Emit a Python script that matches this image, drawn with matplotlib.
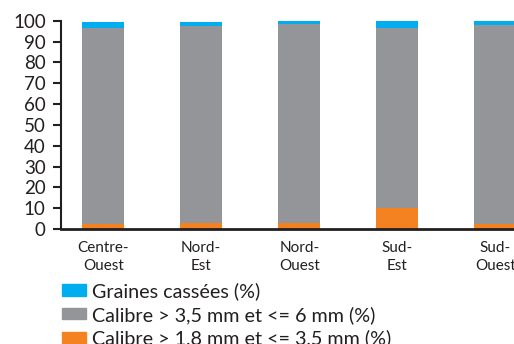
import matplotlib
matplotlib.use("Agg")
import matplotlib.pyplot as plt
from matplotlib.patches import Patch

regions = ["Centre-\nOuest", "Nord-\nEst", "Nord-\nOuest", "Sud-\nEst", "Sud-\nOuest"]
calibre_small = [2.2, 2.8, 3.1, 10.3, 2.2]      # > 1,8 mm et <= 3,5 mm
calibre_large = [94.1, 94.5, 95.2, 86.0, 95.6]  # > 3,5 mm et <= 6 mm
broken = [3.1, 2.1, 1.6, 3.6, 2.1]              # graines cassées
yticks = list(range(0, 101, 10))

labels = ["Graines cassées (%)",
          "Calibre > 3,5 mm et <= 6 mm (%)",
          "Calibre > 1,8 mm et <= 3,5 mm (%)"]
c_blue, c_gray, c_orange = "#00AEEF", "#939598", "#F58220"
ink = "#231F20"

plt.rcParams["font.family"] = ["Lato", "DejaVu Sans"]

W, H = 514, 344
fig = plt.figure(figsize=(W / 100, H / 100), dpi=100)
ax = fig.add_axes([61 / W, (H - 229) / H, (W - 61) / W, 208.3 / H])

x = list(range(len(regions)))
bw = 0.43
ax.bar(x, calibre_small, bw, color=c_orange, clip_on=False)
ax.bar(x, calibre_large, bw, bottom=calibre_small, color=c_gray, clip_on=False)
base2 = [a + b for a, b in zip(calibre_small, calibre_large)]
ax.bar(x, broken, bw, bottom=base2, color=c_blue, clip_on=False)

ax.set_xlim(-0.43, 4.19)
ax.set_ylim(0, 100)
ax.set_yticks(yticks)
ax.set_xticks(x)
ax.set_xticklabels(regions, fontsize=11, color=ink, linespacing=1.35)
ax.tick_params(axis="x", length=0, pad=9)
ax.tick_params(axis="y", length=6, width=1.5, pad=5, labelsize=13.5,
               colors=ink)

for s in ("top", "right"):
    ax.spines[s].set_visible(False)
ax.spines["left"].set_color(ink)
ax.spines["left"].set_linewidth(1.5)
ax.spines["bottom"].set_color(ink)
ax.spines["bottom"].set_linewidth(2)

handles = [Patch(color=c_blue), Patch(color=c_gray), Patch(color=c_orange)]
fig.legend(handles, labels, loc="upper left",
           bbox_to_anchor=(62 / W, (H - 282) / H),
           frameon=False, fontsize=14.2, handlelength=1.2, handleheight=0.5,
           handletextpad=0.3, labelspacing=0.3, borderpad=0,
           borderaxespad=0, labelcolor=ink)

fig.savefig("out.png", dpi=100)
